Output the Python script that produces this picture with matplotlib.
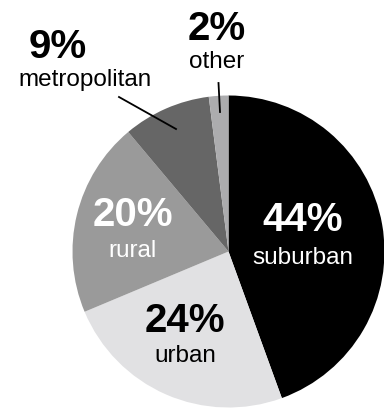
import matplotlib
matplotlib.use("Agg")
import matplotlib.pyplot as plt

categories = ["suburban", "urban", "rural", "metropolitan", "other"]
values = [44, 24, 20, 9, 2]
pct_labels = ["44%", "24%", "20%", "9%", "2%"]
colors = ["#000000", "#e1e1e3", "#9a9a9a", "#666666", "#acacae"]
text_colors = ["white", "black", "white", "black", "black"]

W, H = 384, 408
fig = plt.figure(figsize=(W / 100, H / 100), dpi=100)
ax = fig.add_axes([0, 0, 1, 1])

cx, cy, r = 228.5, 251.5, 156
# pie in an inverted-y axes: counterclock=True gives visual clockwise
ax.pie(values, colors=colors, startangle=-90, counterclock=True,
       center=(cx, cy), radius=r, frame=True,
       wedgeprops=dict(linewidth=0))
ax.set_xlim(0, W)
ax.set_ylim(H, 0)
ax.set_aspect("equal")
ax.axis("off")

# label positions (pixel coords)
pct_pos = [(303, 220), (185, 321), (133, 215), (58, 47), (217, 29)]
name_pos = [(303, 258), (185, 356), (133, 251), (85, 80), (217, 62)]
for p, n, pp, npos, tc in zip(pct_labels, categories, pct_pos, name_pos, text_colors):
    ax.text(pp[0], pp[1], p, ha="center", va="center", fontsize=29,
            fontweight="bold", color=tc, family="Liberation Sans")
    ax.text(npos[0], npos[1], n, ha="center", va="center", fontsize=17.5,
            color=tc, family="Liberation Sans")

ax.plot([119, 176], [97, 129], color="black", lw=1.3)
ax.plot([218.5, 220], [83, 112], color="black", lw=1.3)

fig.savefig("out.png", dpi=100)
